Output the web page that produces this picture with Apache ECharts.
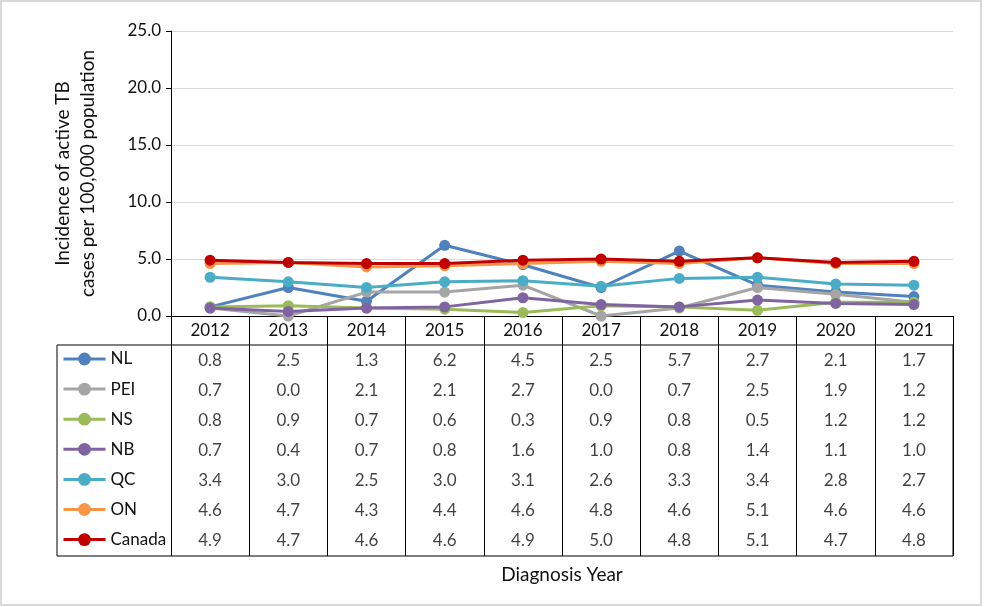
<!DOCTYPE html>
<html>
<head>
<meta charset="utf-8">
<script src="https://cdn.jsdelivr.net/npm/echarts@6/dist/echarts.min.js"></script>
<style>html,body{margin:0;padding:0;background:#fff}#c{width:984px;height:607px}</style>
</head>
<body>
<div id="c"></div>
<script>
const years = ['2012','2013','2014','2015','2016','2017','2018','2019','2020','2021'];
const NL     = [0.8, 2.5, 1.3, 6.2, 4.5, 2.5, 5.7, 2.7, 2.1, 1.7];
const PEI    = [0.7, 0.0, 2.1, 2.1, 2.7, 0.0, 0.7, 2.5, 1.9, 1.2];
const NS     = [0.8, 0.9, 0.7, 0.6, 0.3, 0.9, 0.8, 0.5, 1.2, 1.2];
const NB     = [0.7, 0.4, 0.7, 0.8, 1.6, 1.0, 0.8, 1.4, 1.1, 1.0];
const QC     = [3.4, 3.0, 2.5, 3.0, 3.1, 2.6, 3.3, 3.4, 2.8, 2.7];
const ON     = [4.6, 4.7, 4.3, 4.4, 4.6, 4.8, 4.6, 5.1, 4.6, 4.6];
const Canada = [4.9, 4.7, 4.6, 4.6, 4.9, 5.0, 4.8, 5.1, 4.7, 4.8];
const seriesNames = ['NL','PEI','NS','NB','QC','ON','Canada'];
const seriesData = [NL, PEI, NS, NB, QC, ON, Canada];
const colors = ['#4F81BD','#A5A5A5','#9BBB59','#8064A2','#4BACC6','#F79646','#C00000'];

const FONT = 'Lato, "Noto Sans", sans-serif';
const chart = echarts.init(document.getElementById('c'));

const lineSeries = seriesNames.map((n, i) => ({
  name: n, type: 'line', xAxisIndex: 0, yAxisIndex: 0,
  data: seriesData[i], color: colors[i],
  symbol: 'circle', symbolSize: 11,
  lineStyle: { width: 3, color: colors[i] },
  itemStyle: { color: colors[i] },
  z: 2 + i
}));

const tableSeries = seriesNames.map((n, i) => ({
  type: 'scatter', xAxisIndex: 1, yAxisIndex: 1, symbolSize: 0, silent: true,
  itemStyle: { color: 'transparent' },
  data: seriesData[i].map((v, j) => [j, i, v]),
  label: { show: true, position: 'inside', formatter: p => p.value[2].toFixed(1),
           fontFamily: FONT, fontSize: 17, color: '#111' }
}));

const option = {
  animation: false,
  backgroundColor: '#fff',
  textStyle: { fontFamily: FONT },
  grid: [
    { left: 171, right: 31, top: 31, bottom: 291 },
    { left: 171, right: 31, top: 345, bottom: 51 }
  ],
  legend: {
    data: seriesNames, orient: 'vertical', left: 62, top: 350.5, padding: 0,
    itemWidth: 42, itemHeight: 16, itemGap: 13.1,
    lineStyle: { width: 3 },
    textStyle: { fontFamily: FONT, fontSize: 17, color: '#111' },
    selectedMode: false
  },
  xAxis: [
    { type: 'category', gridIndex: 0, data: years, boundaryGap: true,
      axisLine: { lineStyle: { color: '#000', width: 1 } },
      axisTick: { show: true, length: 29, lineStyle: { color: '#000', width: 1 } },
      axisLabel: { fontFamily: FONT, fontSize: 17, color: '#111', margin: 6, interval: 0 },
      name: 'Diagnosis Year', nameLocation: 'middle', nameGap: 249,
      nameTextStyle: { fontFamily: FONT, fontSize: 19, color: '#111' } },
    { type: 'category', gridIndex: 1, data: years, boundaryGap: true,
      axisLine: { show: false }, axisTick: { show: false }, axisLabel: { show: false },
      splitLine: { show: true, interval: 0, lineStyle: { color: '#000', width: 1 } } }
  ],
  yAxis: [
    { type: 'value', gridIndex: 0, min: 0, max: 25, interval: 5,
      axisLine: { show: true, lineStyle: { color: '#000', width: 1 } },
      axisTick: { show: true, length: 5, lineStyle: { color: '#000' } },
      axisLabel: { fontFamily: FONT, fontSize: 17, color: '#111', margin: 10,
                   formatter: v => v.toFixed(1) },
      splitLine: { lineStyle: { color: '#D9D9D9', width: 1 } },
      name: 'Incidence of active TB\ncases per 100,000 population',
      nameLocation: 'middle', nameGap: 71,
      nameTextStyle: { fontFamily: FONT, fontSize: 19, color: '#111', lineHeight: 25 } },
    { type: 'value', gridIndex: 1, min: -0.5, max: 6.5, inverse: true,
      axisLine: { show: false }, axisTick: { show: false }, axisLabel: { show: false },
      splitLine: { show: false } }
  ],
  series: lineSeries.concat(tableSeries),
  graphic: [
    { type: 'rect', shape: { x: 1, y: 1, width: 980, height: 604 },
      style: { fill: 'none', stroke: '#D9D9D9', lineWidth: 2 }, silent: true, z: 0 },
    { type: 'rect', shape: { x: 57, y: 345, width: 896, height: 211 },
      style: { fill: 'none', stroke: '#000', lineWidth: 1 }, silent: true, z: 10 }
  ]
};
chart.setOption(option);
</script>
</body>
</html>
